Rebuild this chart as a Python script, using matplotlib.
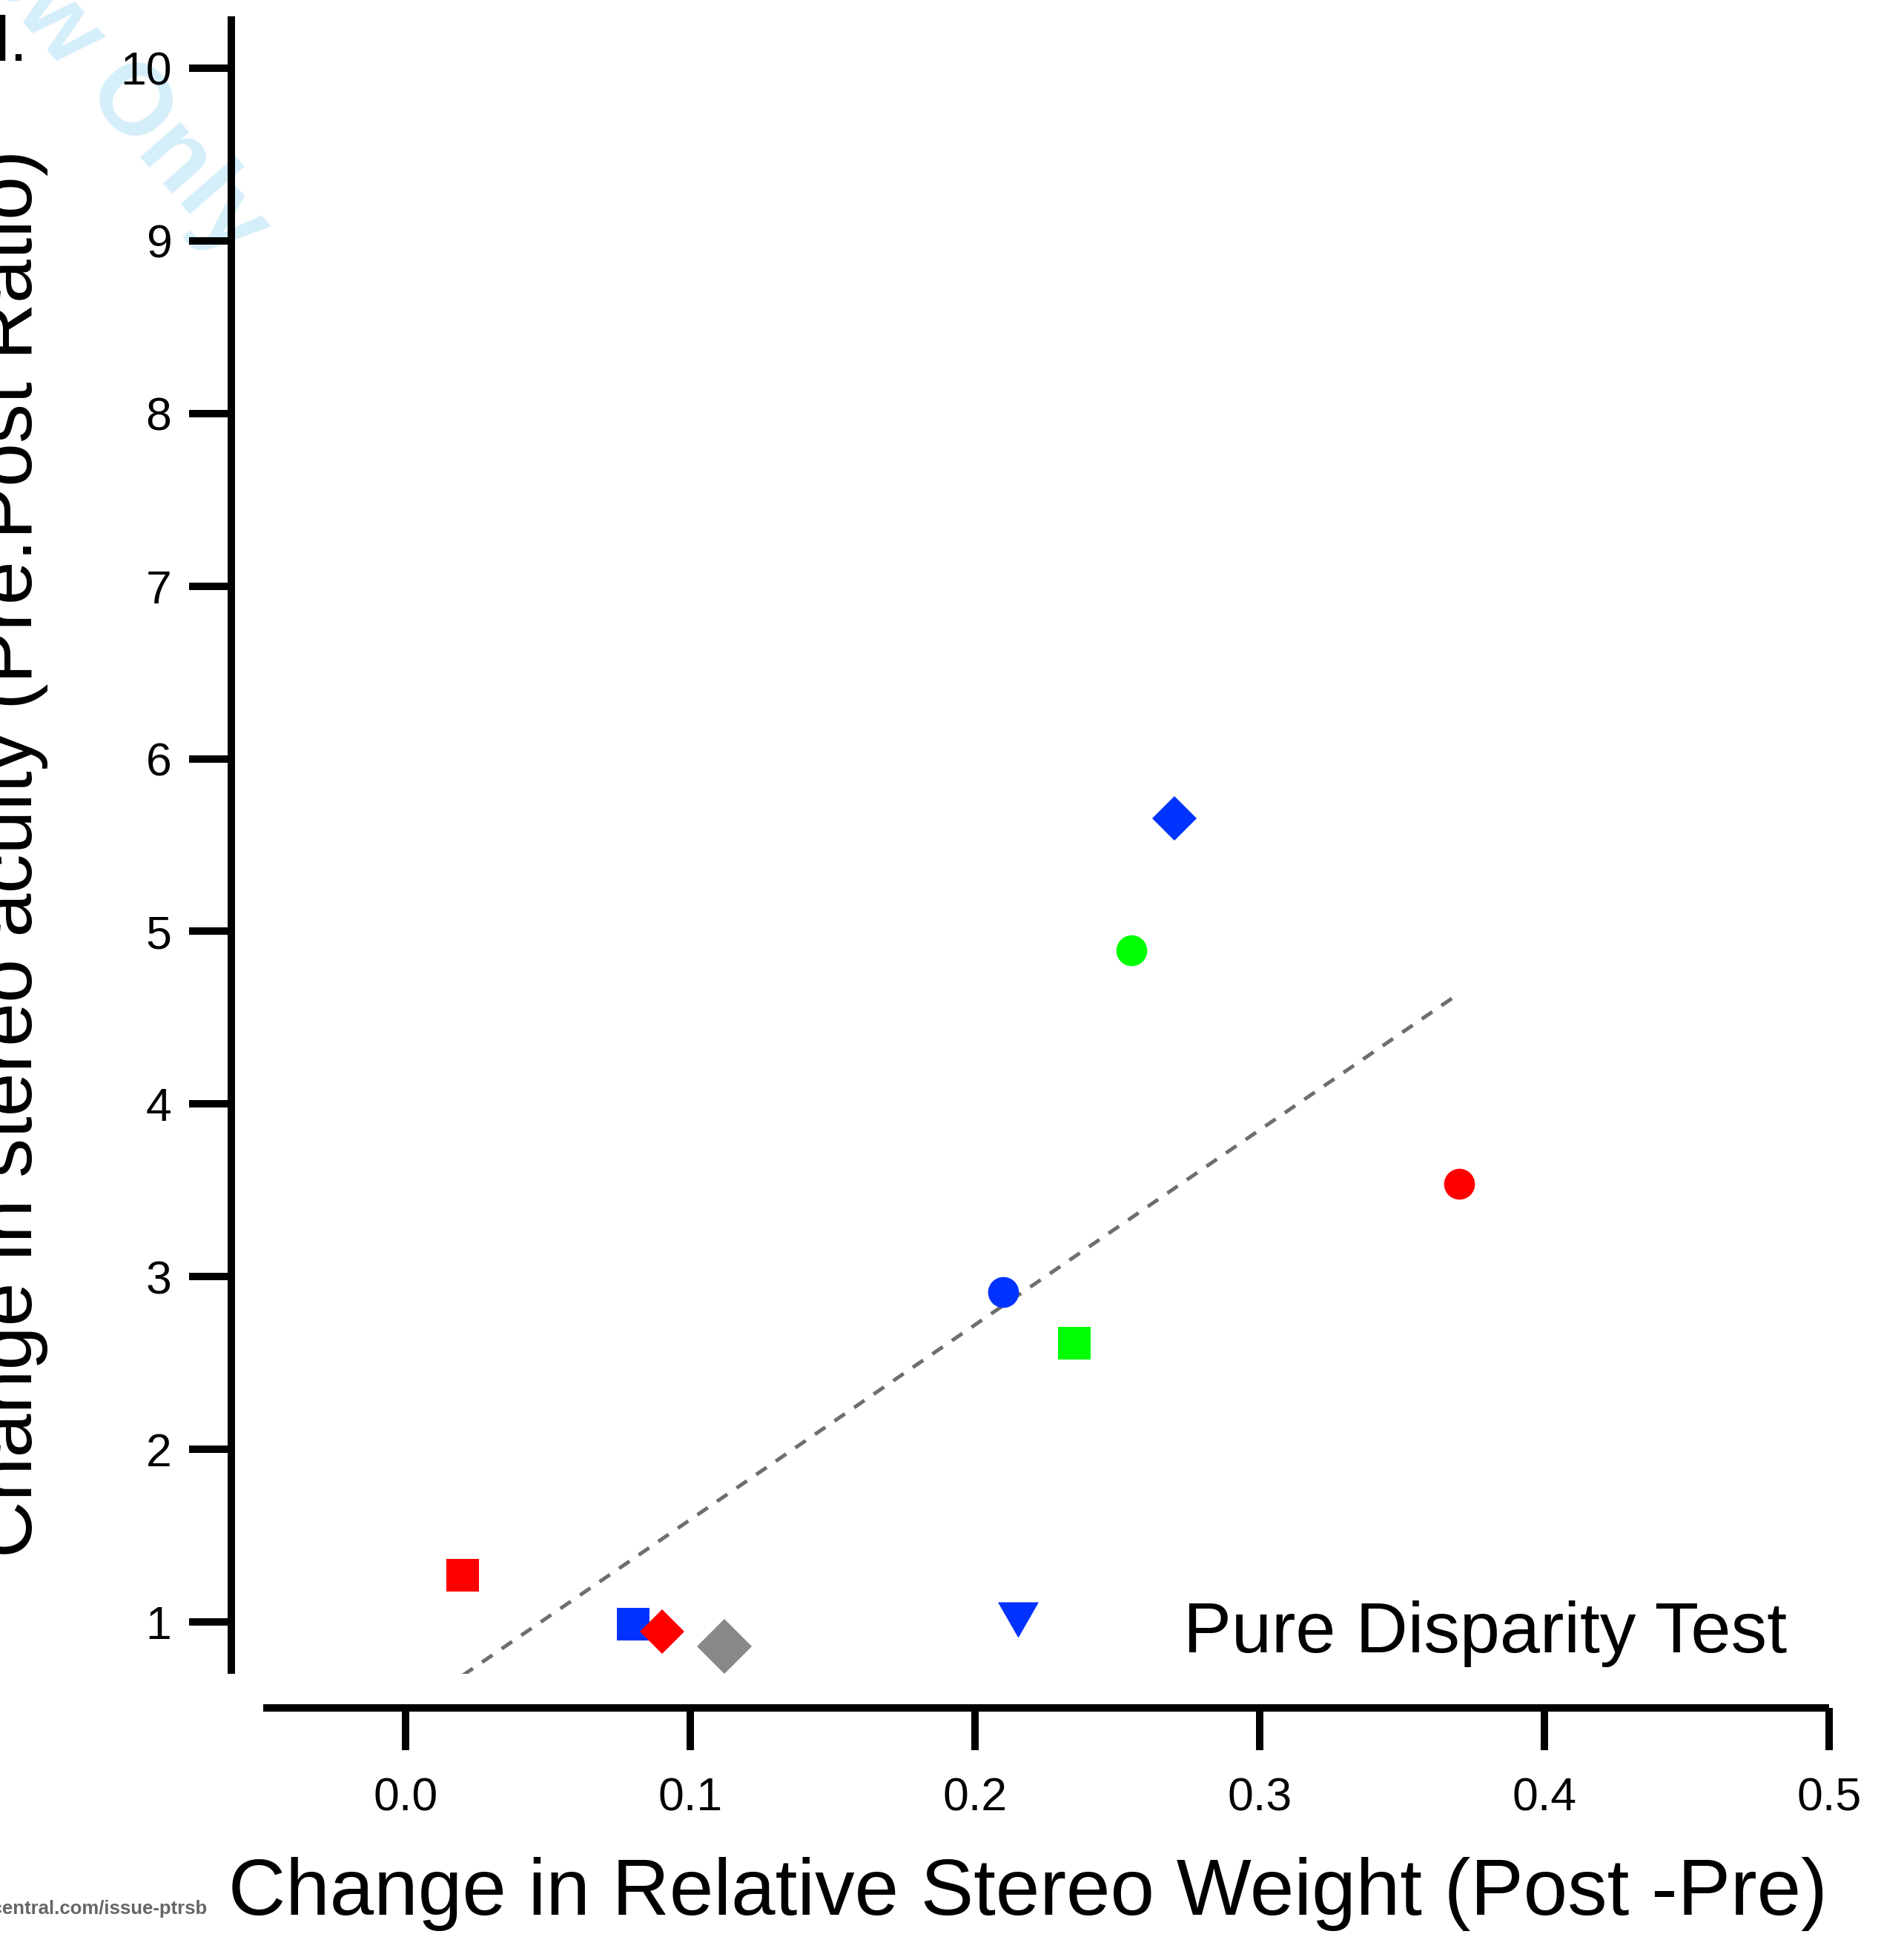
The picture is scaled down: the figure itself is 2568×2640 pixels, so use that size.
import matplotlib.pyplot as plt

plt.rcParams['font.family'] = ['Liberation Sans', 'DejaVu Sans']

# values
weight_change = [0.020, 0.080, 0.090, 0.112, 0.215, 0.210, 0.235, 0.255, 0.270, 0.370]
acuity_change = [1.27, 0.987, 0.944, 0.860, 1.013, 2.91, 2.614, 4.89, 5.654, 3.54]
fit_x = [0.02, 0.37]
fit_y = [0.69, 4.64]
x_ticks = [0.0, 0.1, 0.2, 0.3, 0.4, 0.5]
x_ticklabels = ['0.0', '0.1', '0.2', '0.3', '0.4', '0.5']
y_ticks = [1, 2, 3, 4, 5, 6, 7, 8, 9, 10]

# styling of each point
red, blue, green, grey = '#ff0000', '#0033ff', '#00ff00', '#888888'
tri_down = [(-1, 0.873), (1, 0.873), (0, -0.873)]
colors = [red, blue, red, grey, blue, blue, green, green, blue, red]
markers = ['s', 's', 'D', 'D', tri_down, 'o', 's', 'o', 'D', 'o']
msizes = [31, 31, 30.5, 38, 39.6, 30, 31, 30, 30.5, 30]

W, H = 2568, 2640


def fx(px):
    return px / W


def fy(py):
    return 1 - py / H


fig = plt.figure(figsize=(W / 100, H / 100), dpi=100)
ax = fig.add_axes([fx(355), fy(2258), fx(2467) - fx(355), fy(22) - fy(2258)])
ax.patch.set_visible(False)

ax.plot(fit_x, fit_y, ls=(0, (3.4, 3.0)), lw=3.6, color='#6e6e6e', zorder=2)
for x, y, c, m, s in zip(weight_change, acuity_change, colors, markers, msizes):
    ax.plot([x], [y], ls='none', marker=m, ms=s, color=c, mew=0, zorder=3)

ax.set_xlim(-0.05, 0.5)
ax.set_ylim(0.70, 10.30)

for side in ['top', 'right']:
    ax.spines[side].set_visible(False)
ax.spines['left'].set_position(('outward', 31))
ax.spines['bottom'].set_position(('outward', 33))
for side in ['left', 'bottom']:
    ax.spines[side].set_linewidth(7.2)
    ax.spines[side].set_capstyle('butt')

ax.set_xticks(x_ticks)
ax.set_xticklabels(x_ticklabels)
ax.set_yticks(y_ticks)
ax.tick_params(axis='both', direction='out', length=41, width=7.2, labelsize=45)
ax.tick_params(axis='x', pad=26)
ax.tick_params(axis='y', pad=17)

# axis titles (y one is cut by the left edge of the picture)
fig.text(fx(1386), fy(2583), 'Change in Relative Stereo Weight (Post -Pre)',
         fontsize=77, ha='center', va='baseline')
fig.text(fx(43), fy(1151.5), 'Change in stereo acuity (Pre:Post Ratio)',
         fontsize=76.3, rotation=90, rotation_mode='anchor',
         ha='center', va='baseline')

fig.text(fx(2410), fy(2229), 'Pure Disparity Test', fontsize=70,
         ha='right', va='baseline')

# clipped bits of the manuscript page
fig.text(fx(37), fy(82), 'al.', fontsize=62, ha='right', va='baseline')
fig.text(fx(279), fy(2582), 'http://mc.manuscriptcentral.com/issue-ptrsb',
         fontsize=18.5, fontweight='bold', color='#666666',
         ha='right', va='baseline')
fig.text(fx(311), fy(353), 'For Review Only', fontsize=98, fontweight='bold',
         color='#d5effa', rotation=-49, rotation_mode='anchor',
         ha='right', va='baseline', zorder=-1)

fig.savefig('out.png', dpi=100)
